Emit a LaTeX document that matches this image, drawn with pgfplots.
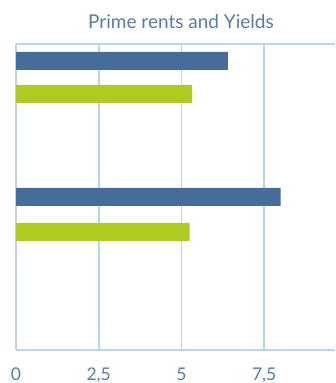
\documentclass[border=0pt]{standalone}
\usepackage{pgfplots}
\pgfplotsset{compat=1.18}
\usepackage{fontspec}
\setmainfont{Lato}
\definecolor{gridc}{HTML}{BCD4EA}
\definecolor{barblue}{HTML}{466D99}
\definecolor{bargreen}{HTML}{B0CB1F}
\definecolor{txtc}{HTML}{5A7AA5}
\begin{document}
\begin{tikzpicture}[x=1pt,y=1pt]
\begin{axis}[
  at={(16pt,33pt)}, anchor=south west,
  scale only axis, width=319pt, height=306pt,
  xmin=0, xmax=9.64, ymin=0, ymax=306,
  xtick={0,2.5,5,7.5}, xticklabels={0,{2,5},5,{7,5}},
  ytick={0,306}, yticklabels={},
  xmajorgrids, ymajorgrids,
  grid style={gridc, line width=1.8pt},
  axis line style={draw=none},
  major tick length=0pt,
  tick label style={font=\fontsize{17.5}{20}\selectfont, text=txtc},
  xticklabel style={yshift=-14pt},
  /pgf/number format/assume math mode=true,
  clip=false,
  xbar, bar width=18, bar shift=0pt,
]
\addplot[draw=none, fill=barblue] coordinates {(6.4,289) (8.0,153)};
\addplot[draw=none, fill=bargreen] coordinates {(5.32,256) (5.25,118)};
\end{axis}
\node[text=txtc, font=\fontsize{19}{22}\selectfont] at (181pt,361pt) {Prime rents and Yields};
\pgfresetboundingbox
\path (0,0) rectangle (335pt,383pt);
\end{tikzpicture}
\end{document}
